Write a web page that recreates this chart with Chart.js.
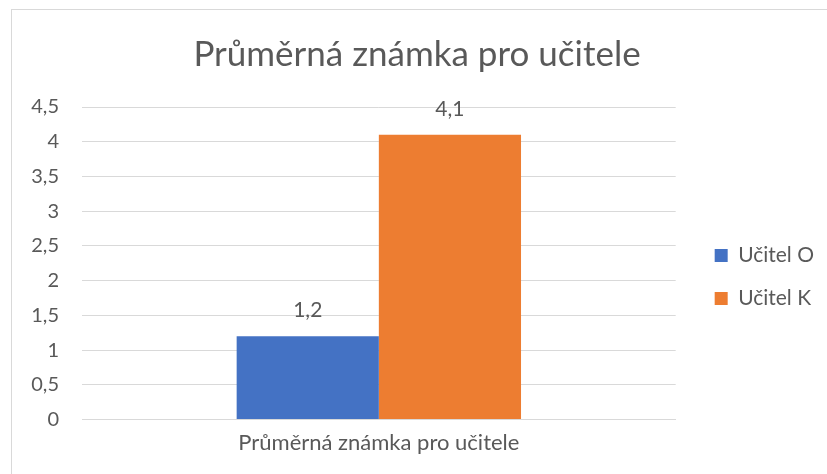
<!DOCTYPE html>
<html>
<head>
<meta charset="utf-8">
<script src="https://cdn.jsdelivr.net/npm/chart.js@4/dist/chart.umd.min.js"></script>
<style>
  html, body { margin: 0; padding: 0; background: #fff; }
  #wrap { position: relative; width: 827px; height: 474px; }
  #frame { position: absolute; left: 11px; top: 9px; right: -5px; bottom: -5px; border-left: 1px solid #d9d9d9; border-top: 1px solid #d9d9d9; pointer-events: none; }
  canvas { position: absolute; left: 0; top: 0; }
</style>
</head>
<body>
<div id="wrap">
  <canvas id="c" width="827" height="474"></canvas>
  <div id="frame"></div>
</div>
<script>
const chartTitle = "Průměrná známka pro učitele";
const categories = ["Průměrná známka pro učitele"];
const seriesNames = ["Učitel O", "Učitel K"];
const seriesO = [1.2];
const seriesK = [4.1];
const seriesColors = ["#4472C4", "#ED7D31"];
const yTicks = [0, 0.5, 1, 1.5, 2, 2.5, 3, 3.5, 4, 4.5];

const FONT = "Lato, 'Open Sans', sans-serif";
const TEXT = "#595959";
const LEG_DX = 17, LEG_DY = 37;

function fmt(v) { return String(v).replace('.', ','); }

const dataLabels = {
  id: 'dataLabels',
  afterDatasetsDraw(chart) {
    const ctx = chart.ctx;
    ctx.save();
    ctx.font = "21px " + FONT;
    ctx.fillStyle = TEXT;
    ctx.textAlign = 'center';
    ctx.textBaseline = 'middle';
    chart.data.datasets.forEach((ds, i) => {
      const meta = chart.getDatasetMeta(i);
      meta.data.forEach((el, j) => {
        ctx.fillText(fmt(ds.data[j]), el.x, el.y - 26);
      });
    });
    ctx.restore();
  }
};

const legendShift = {
  id: 'legendShift',
  afterInit(chart) {
    const lg = chart.legend;
    if (!lg || lg._shifted) return;
    lg._shifted = true;
    const fit = lg.fit.bind(lg);
    lg.fit = function () { fit(); this.width += LEG_DX; };
    const draw = lg.draw.bind(lg);
    lg.draw = function () {
      const ctx = this.ctx;
      ctx.save();
      ctx.translate(LEG_DX, LEG_DY);
      draw();
      ctx.restore();
    };
  }
};

new Chart(document.getElementById('c'), {
  type: 'bar',
  data: {
    labels: categories,
    datasets: [
      { label: seriesNames[0], data: seriesO, backgroundColor: seriesColors[0] },
      { label: seriesNames[1], data: seriesK, backgroundColor: seriesColors[1] }
    ]
  },
  options: {
    responsive: false,
    animation: false,
    devicePixelRatio: 1,
    layout: { padding: { left: 10, right: 3, top: 22, bottom: 16 } },
    datasets: { bar: { categoryPercentage: 0.479, barPercentage: 1 } },
    plugins: {
      title: {
        display: true, text: chartTitle, color: TEXT,
        font: { family: FONT, size: 35, weight: 'normal' },
        padding: { top: 12, bottom: 31 }
      },
      legend: {
        position: 'right',
        labels: {
          color: TEXT, font: { family: FONT, size: 21 },
          boxWidth: 13, boxHeight: 13, padding: 22, useBorderRadius: false
        }
      },
      tooltip: { enabled: false }
    },
    scales: {
      x: {
        grid: { display: false },
        border: { display: true, color: '#d9d9d9' },
        ticks: { color: TEXT, font: { family: FONT, size: 22 }, padding: 2 }
      },
      y: {
        min: 0, max: 4.5,
        afterBuildTicks(scale) { scale.ticks = yTicks.map(v => ({ value: v })); },
        afterFit(scale) { scale.width = 72; },
        grid: { color: '#d9d9d9', drawTicks: false },
        border: { display: false },
        ticks: {
          color: TEXT, font: { family: FONT, size: 20 }, padding: 23,
          callback: v => fmt(v)
        }
      }
    }
  },
  plugins: [dataLabels, legendShift]
});
</script>
</body>
</html>
